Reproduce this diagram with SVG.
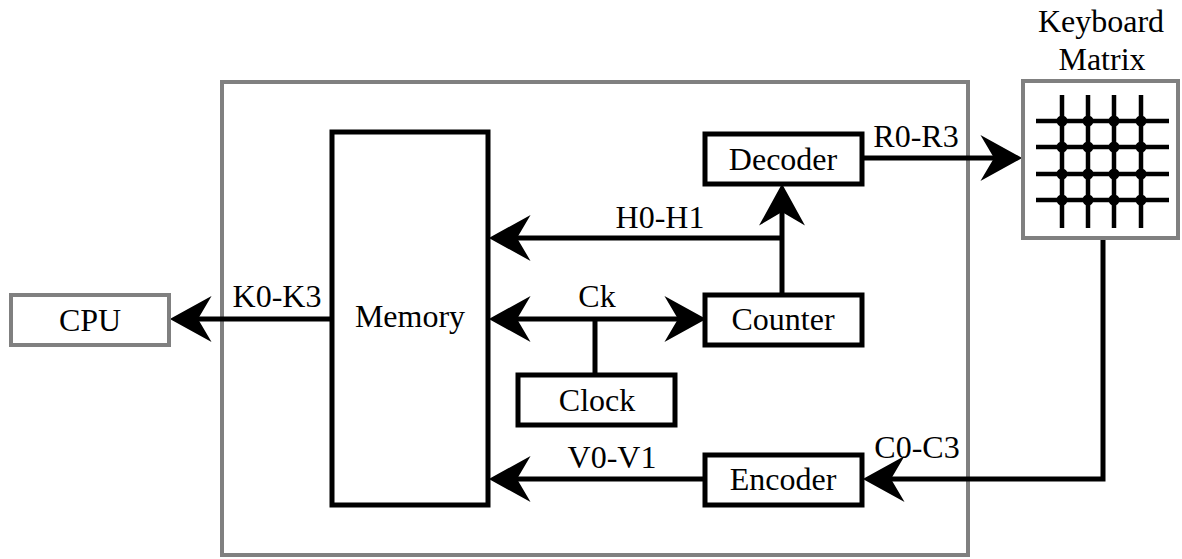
<svg xmlns="http://www.w3.org/2000/svg" width="1182" height="559" viewBox="0 0 1182 559">
<style>
  .box { fill: #ffffff; stroke: #000000; stroke-width: 5; }
  .gbox { fill: none; stroke: #808080; stroke-width: 4; }
  .gfill { fill: #ffffff; stroke: #808080; stroke-width: 4; }
  .lbl { font-family: "Liberation Serif", "Times New Roman", serif; font-size: 32px; fill: #000000; text-anchor: middle; }
  .wire { fill: none; stroke: #000000; stroke-width: 5; }
  .grid { stroke: #000000; stroke-width: 4.5; }
</style>
<defs>
  <marker id="arr" markerUnits="userSpaceOnUse" markerWidth="44" markerHeight="48" viewBox="0 0 42 46" refX="14" refY="23" orient="auto-start-reverse">
    <path d="M41,23 L1,1 L14,23 L1,45 Z" fill="#000000"/>
  </marker>
</defs>
<rect width="1182" height="559" fill="#ffffff"/>

<g id="system">
  <rect class="gbox" x="222" y="82" width="746" height="473"/>
</g>

<g id="connectors">
  <path class="wire" d="M332,319 H198" marker-end="url(#arr)"/>
  <path class="wire" d="M782,238 H517" marker-end="url(#arr)"/>
  <path class="wire" d="M517,319 H678" marker-start="url(#arr)" marker-end="url(#arr)"/>
  <path class="wire" d="M595,319 V375"/>
  <path class="wire" d="M782,295 V212" marker-end="url(#arr)"/>
  <path class="wire" d="M862,158 H994" marker-end="url(#arr)"/>
  <path class="wire" d="M1103,240 V479 H891" marker-end="url(#arr)"/>
  <path class="wire" d="M705,479 H517" marker-end="url(#arr)"/>
  <text class="lbl" x="277" y="307">K0-K3</text>
  <text class="lbl" x="660" y="228">H0-H1</text>
  <text class="lbl" x="597" y="307">Ck</text>
  <text class="lbl" x="916" y="147">R0-R3</text>
  <text class="lbl" x="917" y="458">C0-C3</text>
  <text class="lbl" x="612" y="468">V0-V1</text>
</g>

<g id="cpu">
  <rect class="gfill" x="11" y="295" width="158" height="50"/>
  <text class="lbl" x="90" y="331">CPU</text>
</g>

<g id="memory">
  <rect class="box" x="332" y="132" width="156" height="373"/>
  <text class="lbl" x="410" y="327">Memory</text>
</g>

<g id="decoder">
  <rect class="box" x="705" y="134" width="157" height="50"/>
  <text class="lbl" x="783" y="170">Decoder</text>
</g>

<g id="counter">
  <rect class="box" x="705" y="295" width="157" height="50"/>
  <text class="lbl" x="783" y="330">Counter</text>
</g>

<g id="clock">
  <rect class="box" x="518" y="375" width="157" height="50"/>
  <text class="lbl" x="597" y="411">Clock</text>
</g>

<g id="encoder">
  <rect class="box" x="705" y="455" width="157" height="50"/>
  <text class="lbl" x="783" y="490">Encoder</text>
</g>

<g id="keyboard">
  <text class="lbl" x="1101" y="32">Keyboard</text>
  <text class="lbl" x="1102" y="70">Matrix</text>
  <rect class="gfill" x="1023" y="81" width="155" height="157"/>
  <g class="grid">
    <line x1="1062" y1="95" x2="1062" y2="228"/>
    <line x1="1088" y1="95" x2="1088" y2="228"/>
    <line x1="1114" y1="95" x2="1114" y2="228"/>
    <line x1="1141" y1="95" x2="1141" y2="228"/>
    <line x1="1036" y1="121" x2="1169" y2="121"/>
    <line x1="1036" y1="147" x2="1169" y2="147"/>
    <line x1="1036" y1="174" x2="1169" y2="174"/>
    <line x1="1036" y1="200" x2="1169" y2="200"/>
  </g>
  <g fill="#000000">
    <circle cx="1062" cy="121" r="5.5"/><circle cx="1088" cy="121" r="5.5"/><circle cx="1114" cy="121" r="5.5"/><circle cx="1141" cy="121" r="5.5"/>
    <circle cx="1062" cy="147" r="5.5"/><circle cx="1088" cy="147" r="5.5"/><circle cx="1114" cy="147" r="5.5"/><circle cx="1141" cy="147" r="5.5"/>
    <circle cx="1062" cy="174" r="5.5"/><circle cx="1088" cy="174" r="5.5"/><circle cx="1114" cy="174" r="5.5"/><circle cx="1141" cy="174" r="5.5"/>
    <circle cx="1062" cy="200" r="5.5"/><circle cx="1088" cy="200" r="5.5"/><circle cx="1114" cy="200" r="5.5"/><circle cx="1141" cy="200" r="5.5"/>
  </g>
</g>
</svg>
